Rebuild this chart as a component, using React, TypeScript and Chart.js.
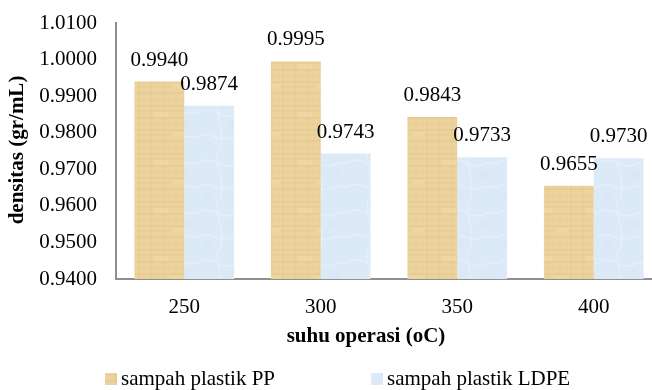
import React, { useEffect, useRef } from "react";
import { Chart, registerables } from "chart.js";

Chart.register(...registerables);

const categories = ["250", "300", "350", "400"];
const ppValues = [0.994, 0.9995, 0.9843, 0.9655];
const ldpeValues = [0.9874, 0.9743, 0.9733, 0.973];
const yTickValues = [0.94, 0.95, 0.96, 0.97, 0.98, 0.99, 1.0, 1.01];
const seriesNames = ["sampah plastik PP", "sampah plastik LDPE"];
const yTitle = "densitas (gr/mL)";
const xTitle = "suhu operasi (oC)";

const FONT = "'Liberation Serif', 'Times New Roman', serif";
const FS = 21;

function makePPPattern(): CanvasPattern | string {
  const c = document.createElement("canvas");
  c.width = 48;
  c.height = 48;
  const g = c.getContext("2d");
  if (!g) return "#EBD199";
  g.fillStyle = "#ECD29C";
  g.fillRect(0, 0, 48, 48);
  const rows = [3, 9, 14, 21, 27, 33, 38, 44];
  rows.forEach((y, i) => {
    g.fillStyle = i % 2 ? "rgba(200,160,90,0.10)" : "rgba(215,175,105,0.08)";
    g.fillRect(0, y, 48, 2);
  });
  const cols = [6, 19, 31, 42];
  cols.forEach((x, i) => {
    g.fillStyle = i % 2 ? "rgba(190,150,85,0.07)" : "rgba(205,165,95,0.06)";
    g.fillRect(x, 0, 2, 48);
  });
  g.fillStyle = "rgba(255,240,205,0.18)";
  g.fillRect(10, 16, 14, 5);
  g.fillRect(28, 36, 12, 4);
  return g.createPattern(c, "repeat") || "#EBD199";
}

function makeLDPEPattern(): CanvasPattern | string {
  const c = document.createElement("canvas");
  c.width = 50;
  c.height = 50;
  const g = c.getContext("2d");
  if (!g) return "#DCE9F7";
  g.fillStyle = "#DCE9F7";
  g.fillRect(0, 0, 50, 50);
  g.strokeStyle = "rgba(240,247,255,0.45)";
  g.lineWidth = 1.5;
  g.beginPath();
  g.moveTo(0, 12);
  g.bezierCurveTo(12, 4, 22, 22, 35, 14);
  g.bezierCurveTo(42, 10, 46, 16, 50, 12);
  g.moveTo(0, 36);
  g.bezierCurveTo(10, 30, 20, 44, 30, 38);
  g.bezierCurveTo(38, 33, 44, 40, 50, 36);
  g.moveTo(18, 0);
  g.bezierCurveTo(14, 14, 26, 30, 20, 50);
  g.stroke();
  g.fillStyle = "rgba(205,222,240,0.15)";
  g.fillRect(30, 20, 10, 8);
  g.fillRect(4, 42, 8, 6);
  return g.createPattern(c, "repeat") || "#DCE9F7";
}

const overlayPlugin = {
  id: "overlay",
  afterDatasetsDraw(chart: any) {
    const ctx = chart.ctx;
    ctx.save();
    ctx.fillStyle = "#000";
    ctx.font = `${FS}px ${FONT}`;
    ctx.textAlign = "center";
    ctx.textBaseline = "alphabetic";
    chart.data.datasets.forEach((ds: any, di: number) => {
      const meta = chart.getDatasetMeta(di);
      meta.data.forEach((bar: any, i: number) => {
        ctx.fillText(Number(ds.data[i]).toFixed(4), bar.x, bar.y - 16);
      });
    });
    ctx.restore();
  },
  afterDraw(chart: any) {
    const ctx = chart.ctx;
    ctx.save();
    ctx.fillStyle = "#000";
    ctx.font = `bold ${FS}px ${FONT}`;
    ctx.textAlign = "center";
    ctx.textBaseline = "middle";
    ctx.fillText(xTitle, 366, 337);
    ctx.save();
    ctx.translate(18, 150);
    ctx.rotate(-Math.PI / 2);
    ctx.fillText(yTitle, 0, 0);
    ctx.restore();
    const items = [
      { x: 105, color: "#EBD199" },
      { x: 371, color: "#DCE9F7" },
    ];
    ctx.font = `${FS}px ${FONT}`;
    ctx.textAlign = "left";
    ctx.textBaseline = "alphabetic";
    items.forEach((it, i) => {
      ctx.fillStyle = chart.data.datasets[i].backgroundColor || it.color;
      ctx.fillRect(it.x, 373, 12, 12);
      ctx.fillStyle = "#000";
      ctx.fillText(seriesNames[i], it.x + 16, 385);
    });
    ctx.restore();
  },
};

export default function App() {
  const ref = useRef<HTMLCanvasElement>(null);
  useEffect(() => {
    if (!ref.current) return;
    const chart = new Chart(ref.current, {
      type: "bar",
      data: {
        labels: categories,
        datasets: [
          {
            label: seriesNames[0],
            data: ppValues,
            backgroundColor: makePPPattern() as any,
            borderWidth: 0,
          },
          {
            label: seriesNames[1],
            data: ldpeValues,
            backgroundColor: makeLDPEPattern() as any,
            borderWidth: 0,
          },
        ],
      },
      options: {
        animation: false,
        responsive: false,
        devicePixelRatio: 1,
        layout: { padding: { left: 0, right: 2, top: 23, bottom: 0 } },
        plugins: { legend: { display: false }, tooltip: { enabled: false } },
        datasets: { bar: { barPercentage: 1, categoryPercentage: 0.73 } },
        scales: {
          x: {
            grid: { display: false, drawTicks: false },
            border: { display: true, color: "#8f8f8f", width: 2 },
            ticks: { color: "#000", font: { family: FONT, size: FS }, padding: 16 },
            afterFit: (s: any) => {
              s.height = 111;
              s.paddingLeft = 0;
              s.paddingRight = 0;
            },
          },
          y: {
            min: 0.94,
            max: 1.01,
            grid: { display: false, drawTicks: false },
            border: { display: true, color: "#8f8f8f", width: 2 },
            afterBuildTicks: (s: any) => {
              s.ticks = yTickValues.map((v) => ({ value: v }));
            },
            ticks: {
              color: "#000",
              font: { family: FONT, size: FS },
              padding: 19,
              callback: (v: any) => Number(v).toFixed(4),
            },
            afterFit: (s: any) => {
              s.width = 116;
              s.paddingTop = 0;
              s.paddingBottom = 0;
            },
          },
        },
      },
      plugins: [overlayPlugin],
    });
    return () => chart.destroy();
  }, []);
  return (
    <div
      style={{
        position: "fixed",
        left: 0,
        top: 0,
        width: 652,
        height: 390,
        overflow: "hidden",
        background: "#fff",
      }}
    >
      <canvas ref={ref} width={664} height={390} style={{ width: 664, height: 390, display: "block" }} />
    </div>
  );
}
